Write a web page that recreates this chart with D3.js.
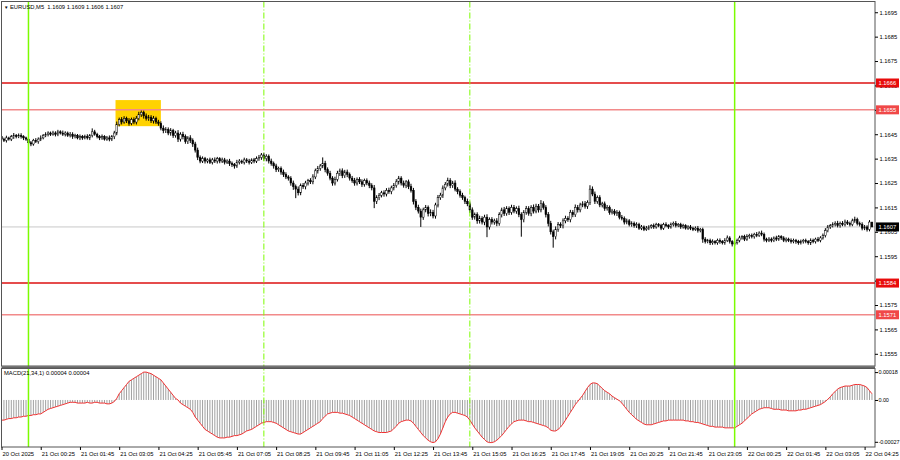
<!DOCTYPE html>
<html>
<head>
<meta charset="utf-8">
<script src="https://cdn.jsdelivr.net/npm/d3@7"></script>
<style>
  body { margin: 0; background: #fff; }
  svg text { font-family: "Liberation Sans", Arial, sans-serif; font-size: 5.8px; fill: #000; }
</style>
</head>
<body>
<div id="chart"></div>
<script>
const { d3 } = window;

// EURUSD M5, one bar every 5 minutes from 20 Oct 23:05
const firstOpen = 1.16440;
const closes = [
  1.16430, 1.16425, 1.16435, 1.16430, 1.16440, 1.16445, 1.16440, 1.16445, 1.16440, 1.16435,
  1.16430, 1.16415, 1.16410, 1.16425, 1.16420, 1.16430, 1.16435, 1.16445, 1.16450, 1.16455,
  1.16450, 1.16455, 1.16450, 1.16460, 1.16455, 1.16450, 1.16455, 1.16445, 1.16450, 1.16440,
  1.16445, 1.16435, 1.16440, 1.16435, 1.16440, 1.16435, 1.16445, 1.16460, 1.16450, 1.16440,
  1.16435, 1.16440, 1.16430, 1.16435, 1.16430, 1.16440, 1.16455, 1.16490, 1.16510, 1.16500,
  1.16515, 1.16505, 1.16495, 1.16510, 1.16500, 1.16515, 1.16530, 1.16540, 1.16525, 1.16515,
  1.16520, 1.16505, 1.16515, 1.16500, 1.16495, 1.16475, 1.16465, 1.16470, 1.16455, 1.16465,
  1.16445, 1.16455, 1.16430, 1.16450, 1.16440, 1.16420, 1.16435, 1.16425, 1.16410, 1.16385,
  1.16355, 1.16340, 1.16350, 1.16340, 1.16345, 1.16335, 1.16345, 1.16340, 1.16350, 1.16340,
  1.16345, 1.16335, 1.16340, 1.16330, 1.16325, 1.16320, 1.16335, 1.16340, 1.16335, 1.16345,
  1.16340, 1.16335, 1.16345, 1.16340, 1.16350, 1.16355, 1.16365, 1.16350, 1.16360, 1.16340,
  1.16330, 1.16320, 1.16305, 1.16310, 1.16295, 1.16285, 1.16275, 1.16270, 1.16250, 1.16235,
  1.16225, 1.16210, 1.16240, 1.16235, 1.16250, 1.16260, 1.16255, 1.16275, 1.16300, 1.16310,
  1.16320, 1.16330, 1.16305, 1.16290, 1.16270, 1.16250, 1.16265, 1.16290, 1.16300, 1.16280,
  1.16295, 1.16285, 1.16270, 1.16260, 1.16250, 1.16265, 1.16255, 1.16245, 1.16260, 1.16250,
  1.16240, 1.16230, 1.16175, 1.16190, 1.16200, 1.16210, 1.16205, 1.16220, 1.16215, 1.16230,
  1.16240, 1.16255, 1.16270, 1.16250, 1.16240, 1.16255, 1.16235, 1.16220, 1.16175, 1.16150,
  1.16135, 1.16110, 1.16140, 1.16150, 1.16125, 1.16130, 1.16115, 1.16160, 1.16190, 1.16200,
  1.16230, 1.16245, 1.16260, 1.16240, 1.16250, 1.16225, 1.16215, 1.16200, 1.16190, 1.16175,
  1.16165, 1.16140, 1.16110, 1.16120, 1.16095, 1.16105, 1.16090, 1.16110, 1.16070, 1.16100,
  1.16090, 1.16095, 1.16085, 1.16120, 1.16140, 1.16125, 1.16145, 1.16130, 1.16150, 1.16135,
  1.16145, 1.16120, 1.16100, 1.16130, 1.16145, 1.16125, 1.16150, 1.16135, 1.16155, 1.16140,
  1.16165, 1.16150, 1.16120, 1.16085, 1.16050, 1.16030, 1.16060, 1.16080, 1.16075, 1.16095,
  1.16105, 1.16100, 1.16130, 1.16120, 1.16150, 1.16140, 1.16160, 1.16165, 1.16155, 1.16170,
  1.16225, 1.16205, 1.16175, 1.16190, 1.16160, 1.16165, 1.16145, 1.16150, 1.16130, 1.16135,
  1.16125, 1.16130, 1.16110, 1.16105, 1.16090, 1.16095, 1.16080, 1.16085, 1.16075, 1.16080,
  1.16065, 1.16070, 1.16060, 1.16065, 1.16070, 1.16075, 1.16070, 1.16080, 1.16075, 1.16065,
  1.16080, 1.16075, 1.16070, 1.16080, 1.16085, 1.16075, 1.16080, 1.16070, 1.16075, 1.16065,
  1.16070, 1.16065, 1.16060, 1.16065, 1.16055, 1.16060, 1.16020, 1.16010, 1.16015, 1.16005,
  1.16010, 1.16005, 1.16015, 1.16010, 1.16005, 1.16015, 1.16025, 1.16010, 1.16000, 1.16005,
  1.16015, 1.16025, 1.16030, 1.16020, 1.16030, 1.16035, 1.16030, 1.16040, 1.16035, 1.16045,
  1.16040, 1.16020, 1.16015, 1.16020, 1.16015, 1.16025, 1.16020, 1.16030, 1.16025, 1.16015,
  1.16020, 1.16015, 1.16010, 1.16015, 1.16010, 1.16005, 1.16010, 1.16015, 1.16010, 1.16005,
  1.16015, 1.16010, 1.16020, 1.16015, 1.16025, 1.16035, 1.16055, 1.16070, 1.16075, 1.16080,
  1.16085, 1.16075, 1.16085, 1.16080, 1.16090, 1.16085, 1.16080, 1.16095, 1.16100, 1.16085,
  1.16080, 1.16065, 1.16070, 1.16060, 1.16090, 1.16070,
];

// wick lengths beyond the body, in points (0.00001)
const upperWickPts = [
  8, 6, 9, 5, 7, 10, 6, 8, 9, 6, 5, 8, 7, 6, 9, 7, 10, 6, 8, 7,
  6, 9, 7, 8, 6, 10, 7, 6, 9, 8, 7, 6, 9, 7, 8, 10, 6, 14, 8, 6,
  7, 9, 6, 8, 10, 7, 9, 12, 8, 10, 9, 7, 11, 8, 9, 10, 12, 9, 8, 10,
  9, 8, 10, 7, 9, 8, 11, 9, 8, 10, 7, 9, 12, 8, 10, 9, 7, 11, 8, 9,
  10, 8, 9, 7, 6, 9, 8, 10, 7, 6, 9, 8, 7, 9, 8, 7, 10, 8, 6, 9,
  7, 9, 6, 8, 9, 10, 8, 9, 8, 7, 10, 8, 9, 7, 8, 10, 9, 7, 8, 10,
  9, 11, 8, 10, 9, 7, 10, 11, 9, 10, 8, 25, 11, 9, 10, 8, 11, 10, 9, 10,
  9, 10, 8, 9, 11, 8, 9, 10, 8, 9, 10, 9, 12, 10, 9, 8, 10, 9, 11, 9,
  10, 11, 9, 8, 10, 7, 9, 12, 10, 9, 11, 10, 9, 10, 8, 12, 10, 9, 11, 10,
  10, 9, 12, 10, 9, 11, 8, 9, 10, 8, 11, 9, 10, 9, 10, 11, 9, 10, 12, 9,
  10, 9, 11, 10, 9, 12, 10, 9, 11, 10, 9, 12, 10, 9, 11, 10, 9, 12, 10, 9,
  15, 10, 9, 11, 10, 9, 12, 10, 9, 10, 11, 9, 10, 9, 12, 10, 9, 10, 11, 9,
  16, 11, 10, 9, 10, 8, 9, 10, 8, 9, 8, 9, 7, 9, 8, 9, 7, 8, 7, 9,
  7, 8, 6, 9, 7, 6, 9, 7, 6, 8, 7, 9, 6, 8, 7, 9, 6, 7, 8, 6,
  7, 8, 6, 7, 9, 6, 7, 8, 6, 7, 9, 6, 7, 8, 6, 9, 10, 7, 6, 8,
  7, 9, 6, 8, 10, 7, 8, 6, 9, 7, 10, 7, 6, 8, 7, 6, 9, 7, 6, 7,
  7, 6, 8, 7, 6, 7, 8, 6, 7, 6, 8, 7, 6, 9, 7, 8, 10, 8, 7, 9,
  8, 10, 7, 9, 10, 8, 7, 9, 12, 8, 7, 9, 8, 7, 8, 0,
];
const lowerWickPts = [
  25, 7, 9, 6, 8, 9, 7, 6, 8, 9, 7, 10, 9, 7, 6, 9, 8, 6, 7, 9,
  7, 6, 9, 8, 6, 7, 9, 6, 8, 9, 7, 6, 9, 8, 6, 7, 9, 8, 6, 7,
  9, 8, 6, 7, 9, 8, 10, 9, 8, 10, 7, 9, 10, 8, 9, 10, 8, 9, 11, 9,
  10, 9, 11, 8, 10, 9, 11, 10, 9, 11, 10, 9, 12, 10, 11, 9, 10, 11, 12, 10,
  11, 9, 8, 10, 9, 7, 9, 8, 10, 9, 8, 9, 7, 10, 9, 11, 8, 9, 7, 9,
  8, 9, 7, 9, 8, 9, 10, 9, 11, 10, 9, 11, 10, 9, 11, 10, 9, 10, 11, 13,
  37, 11, 10, 9, 11, 10, 9, 10, 9, 11, 10, 9, 11, 10, 9, 11, 10, 9, 11, 10,
  9, 11, 10, 9, 11, 10, 9, 11, 10, 9, 11, 10, 28, 11, 10, 9, 11, 10, 9, 11,
  10, 9, 11, 10, 9, 11, 10, 9, 13, 11, 10, 40, 11, 10, 12, 11, 10, 11, 10, 9,
  11, 10, 9, 11, 10, 9, 11, 10, 9, 11, 10, 12, 11, 10, 12, 11, 10, 13, 42, 11,
  10, 11, 12, 10, 11, 10, 9, 11, 10, 9, 11, 10, 70, 11, 10, 9, 11, 10, 9, 11,
  10, 9, 11, 13, 11, 45, 11, 10, 9, 11, 10, 9, 11, 10, 9, 11, 10, 9, 10, 11,
  10, 9, 11, 10, 9, 10, 9, 8, 10, 9, 8, 10, 9, 8, 10, 9, 8, 9, 8, 9,
  7, 8, 7, 6, 8, 7, 8, 7, 6, 8, 7, 6, 8, 7, 8, 7, 6, 8, 7, 6,
  7, 8, 7, 6, 8, 7, 15, 8, 7, 9, 8, 7, 8, 9, 7, 8, 7, 8, 10, 8,
  7, 8, 7, 8, 7, 8, 7, 8, 7, 6, 8, 10, 8, 7, 8, 7, 8, 7, 8, 7,
  8, 7, 8, 7, 9, 8, 7, 8, 7, 8, 9, 7, 8, 7, 8, 7, 8, 7, 8, 7,
  8, 7, 8, 7, 8, 7, 8, 7, 8, 9, 8, 9, 8, 9, 8, 1,
];

// MACD(21,34,1) per bar, in units of 0.00001
const macdE5 = [
  -13, -13, -12.5, -12, -12, -11.5, -11.5, -11, -11, -10.5,
  -10.5, -10, -10, -9.5, -9.5, -9, -9, -8, -7, -6,
  -5.5, -5, -4.5, -4, -3.5, -3, -2.5, -2, -1.5, -1.5,
  -1.5, -2, -2, -2, -2, -1.5, -2, -2, -1.5, -1.5,
  -2, -2, -2, -2.5, -2.5, -2, -1, 1, 4, 6,
  8, 10, 12, 13, 14, 15, 16, 17, 18, 18,
  17.5, 17, 16, 15, 14, 13, 11, 9, 7, 5,
  3, 1, 0, -2, -3, -4, -5, -6, -8, -11,
  -13, -15, -17, -19, -20, -21, -22, -23, -24, -24.5,
  -24.5, -24.5, -24, -24, -23.5, -23, -23, -22.5, -22, -21,
  -20, -19.5, -19, -18, -17, -16, -15, -14.5, -14, -14,
  -14, -14.5, -15, -16, -17, -18, -19, -20, -20.5, -21,
  -21.5, -22, -22, -21, -20, -19, -18, -17, -16, -15,
  -14, -12, -10.5, -9, -8.5, -8, -8, -8, -8.5, -8.5,
  -9, -9.5, -10, -11, -12, -13, -14, -15, -16, -17,
  -18, -19, -20, -20.5, -21, -21, -21, -21, -20.5, -20,
  -18.5, -17, -15, -14, -13.5, -13, -13, -13.5, -15, -17,
  -19, -21, -23, -24.5, -26, -27, -27.5, -27, -25, -22,
  -18, -14, -11, -9, -8, -8, -8.5, -9, -9.5, -10,
  -11, -13, -15.5, -18, -20, -22, -24, -25.5, -27, -27.5,
  -27.5, -27, -26, -24.5, -23, -21, -19, -17, -15.5, -14,
  -13.5, -13, -13, -13, -13.5, -14, -14, -14.5, -15, -15.5,
  -16, -16.5, -17, -18, -19.5, -20, -20, -19, -17.5, -15.5,
  -13, -10.5, -8, -5.5, -3, -1, 1, 3, 5.5, 8,
  10, 11, 11, 10.5, 9, 7.5, 6, 5, 4, 2.5,
  1.5, 0.5, -0.5, -2, -4, -6, -8, -9.5, -11, -12.5,
  -13.5, -14.5, -15.5, -16, -16, -16, -15.5, -15, -14.5, -14,
  -13.5, -13.5, -13, -13, -13, -13, -13, -13, -13, -13.5,
  -13.5, -14, -14, -14.5, -14.5, -15, -15.5, -16, -16.5, -17,
  -17, -17.5, -17.5, -17.5, -17.5, -18, -18, -18, -18, -18,
  -17, -16, -15, -13.5, -12, -10.5, -9, -8, -7, -6,
  -5.5, -5, -5, -5, -5.5, -6, -6, -6, -6.5, -6.5,
  -6.5, -7, -7, -7, -7, -6.5, -6.5, -6, -6, -5.5,
  -5, -4.5, -4, -3.5, -3, -2, -1, 0.5, 2, 4,
  5.5, 7, 8, 8.5, 9, 9, 9, 9.5, 10, 10,
  10, 9.5, 9, 8, 6, 4,
];

const priceTicks = [1.1695, 1.1685, 1.1675, 1.1665, 1.1655, 1.1645, 1.1635, 1.1625,
  1.1615, 1.1605, 1.1595, 1.1585, 1.1575, 1.1565, 1.1555];
const strongLevels = [1.1666, 1.1584];
const weakLevels = [1.1655, 1.1571];
const macdTicks = [0.00018, 0, -0.00027];
const macdTickLabels = ['0.00018', '0.00', '-0.00027'];
const timeLabels = ['20 Oct 2025', '21 Oct 00:25', '21 Oct 01:45', '21 Oct 03:05', '21 Oct 04:25',
  '21 Oct 05:45', '21 Oct 07:05', '21 Oct 08:25', '21 Oct 09:45', '21 Oct 11:05', '21 Oct 12:25',
  '21 Oct 13:45', '21 Oct 15:05', '21 Oct 16:25', '21 Oct 17:45', '21 Oct 19:05', '21 Oct 20:25',
  '21 Oct 21:45', '21 Oct 23:05', '22 Oct 00:25', '22 Oct 01:45', '22 Oct 03:05', '22 Oct 04:25'];
const barsPerLabel = 16;
const dayBars = [11, 299]; // 00:00 lines
const sessionBars = [107, 191]; // 08:00 and 15:00 lines
const zoneBars = [46.5, 65];
const zonePrices = [1.16483, 1.16590];
const titleText = 'EURUSD,M5  1.1609 1.1609 1.1606 1.1607';
const macdText = 'MACD(21,34,1) 0.00004 0.00004';

function chartInit() {
  const W = 900;
  const H = 460;
  const left = 1.5;
  const right = 875;
  const mainTop = 1.5;
  const mainBottom = 366;
  const subTop = 368.5;
  const subBottom = 447;
  const step = 2.452;

  const svg = d3.select('#chart').append('svg')
    .attr('width', W)
    .attr('height', H);

  const x = d3.scaleLinear()
    .domain([0, closes.length])
    .range([left, left + step * closes.length]);
  const y = d3.scaleLinear()
    .domain([1.1550, 1.16992])
    .range([mainBottom, 2]);
  const yM = d3.scaleLinear()
    .domain([-0.00031, 0.0002])
    .range([448, 369]);

  const defs = svg.append('defs');
  defs.append('clipPath').attr('id', 'clipMain')
    .append('rect').attr('x', left).attr('y', mainTop)
    .attr('width', right - left).attr('height', mainBottom - mainTop);
  defs.append('clipPath').attr('id', 'clipSub')
    .append('rect').attr('x', left).attr('y', subTop)
    .attr('width', right - left).attr('height', subBottom - subTop);

  const main = svg.append('g').attr('clip-path', 'url(#clipMain)');
  const sub = svg.append('g').attr('clip-path', 'url(#clipSub)');

  // yellow zone behind the bars
  main.append('rect')
    .attr('x', x(zoneBars[0]))
    .attr('y', y(zonePrices[1]))
    .attr('width', x(zoneBars[1]) - x(zoneBars[0]))
    .attr('height', y(zonePrices[0]) - y(zonePrices[1]))
    .attr('fill', '#ffd200');

  // last price line
  const last = closes[closes.length - 1];
  main.append('line')
    .attr('x1', left).attr('x2', right)
    .attr('y1', y(last)).attr('y2', y(last))
    .attr('stroke', '#c8c8c8')
    .attr('stroke-width', 1);

  // bars
  const bars = closes.map((c, i) => {
    const o = i === 0 ? firstOpen : closes[i - 1];
    return {
      i,
      o,
      c,
      h: Math.max(o, c) + upperWickPts[i] * 1e-5,
      l: Math.min(o, c) - lowerWickPts[i] * 1e-5,
    };
  });

  const candle = main.append('g').selectAll('g')
    .data(bars)
    .join('g');

  candle.append('line')
    .attr('x1', (d) => x(d.i))
    .attr('x2', (d) => x(d.i))
    .attr('y1', (d) => y(d.h))
    .attr('y2', (d) => y(d.l))
    .attr('stroke', '#000')
    .attr('stroke-width', 1);

  candle.append('rect')
    .attr('x', (d) => x(d.i) - 0.85)
    .attr('width', 1.7)
    .attr('y', (d) => y(Math.max(d.o, d.c)))
    .attr('height', (d) => Math.max(0.6, Math.abs(y(d.o) - y(d.c))))
    .attr('fill', (d) => (d.c >= d.o ? '#fff' : '#000'))
    .attr('stroke', '#000')
    .attr('stroke-width', 0.5);

  // horizontal levels
  main.selectAll('.weak')
    .data(weakLevels)
    .join('line')
    .attr('x1', left).attr('x2', right)
    .attr('y1', (d) => y(d)).attr('y2', (d) => y(d))
    .attr('stroke', '#f28a8a')
    .attr('stroke-width', 1.5);
  main.selectAll('.strong')
    .data(strongLevels)
    .join('line')
    .attr('x1', left).attr('x2', right)
    .attr('y1', (d) => y(d)).attr('y2', (d) => y(d))
    .attr('stroke', '#dd1010')
    .attr('stroke-width', 1.6);

  // MACD histogram and signal
  sub.append('g').selectAll('line')
    .data(macdE5)
    .join('line')
    .attr('x1', (d, i) => x(i))
    .attr('x2', (d, i) => x(i))
    .attr('y1', yM(0))
    .attr('y2', (d) => yM(d * 1e-5))
    .attr('stroke', '#a0a0a0')
    .attr('stroke-width', 1);

  sub.append('path')
    .datum(macdE5)
    .attr('d', d3.line().x((d, i) => x(i)).y((d) => yM(d * 1e-5)))
    .attr('fill', 'none')
    .attr('stroke', '#f03232')
    .attr('stroke-width', 1);

  // vertical green lines across both panes
  svg.append('g').selectAll('line')
    .data(dayBars)
    .join('line')
    .attr('x1', (d) => x(d)).attr('x2', (d) => x(d))
    .attr('y1', mainTop).attr('y2', subBottom)
    .attr('stroke', '#7cfc00')
    .attr('stroke-width', 1.5);
  svg.append('g').selectAll('line')
    .data(sessionBars)
    .join('line')
    .attr('x1', (d) => x(d)).attr('x2', (d) => x(d))
    .attr('y1', mainTop).attr('y2', subBottom)
    .attr('stroke', '#7cfc00')
    .attr('stroke-width', 1)
    .attr('stroke-dasharray', '6,2,1,2');

  // frames
  svg.append('rect')
    .attr('x', left).attr('y', mainTop)
    .attr('width', right - left).attr('height', mainBottom - mainTop)
    .attr('fill', 'none').attr('stroke', '#555').attr('stroke-width', 1);
  svg.append('rect')
    .attr('x', left).attr('y', subTop)
    .attr('width', right - left).attr('height', subBottom - subTop)
    .attr('fill', 'none').attr('stroke', '#555').attr('stroke-width', 1);
  svg.append('line')
    .attr('x1', left).attr('x2', right)
    .attr('y1', 367.2).attr('y2', 367.2)
    .attr('stroke', '#666').attr('stroke-width', 2);

  // price axis
  const yAxis = d3.axisRight(y)
    .tickValues(priceTicks)
    .tickSize(3)
    .tickPadding(1.5)
    .tickFormat(d3.format('.4f'));
  const gy = svg.append('g')
    .attr('transform', `translate(${right}, 0)`)
    .call(yAxis);
  gy.select('.domain').remove();
  gy.selectAll('text').attr('font-size', null).attr('font-family', null);

  const macdAxis = d3.axisRight(yM)
    .tickValues(macdTicks)
    .tickSize(3)
    .tickPadding(0.5)
    .tickFormat((d, k) => macdTickLabels[k]);
  const gm = svg.append('g')
    .attr('transform', `translate(${right}, 0)`)
    .call(macdAxis);
  gm.select('.domain').remove();
  gm.selectAll('text')
    .attr('font-size', null).attr('font-family', null)
    .style('font-size', '5.5px')
    .style('letter-spacing', '-0.1px');

  // time axis
  const timeIdx = timeLabels.map((t, k) => k * barsPerLabel);
  const xAxis = d3.axisBottom(x)
    .tickValues(timeIdx)
    .tickSize(3)
    .tickPadding(2)
    .tickFormat((d, k) => timeLabels[k]);
  const gx = svg.append('g')
    .attr('transform', `translate(0, ${subBottom})`)
    .call(xAxis);
  gx.select('.domain').remove();
  gx.selectAll('text')
    .attr('font-size', null).attr('font-family', null)
    .attr('text-anchor', 'start')
    .attr('dx', 0.5);

  // level boxes on the price axis
  const boxes = [
    ...weakLevels.map((p) => ({ p, fill: '#f04848' })),
    ...strongLevels.map((p) => ({ p, fill: '#e80c0c' })),
    { p: last, fill: '#000' },
  ];
  const box = svg.append('g').selectAll('g')
    .data(boxes)
    .join('g')
    .attr('transform', (d) => `translate(${right + 1}, ${y(d.p)})`);
  box.append('rect')
    .attr('x', 0).attr('y', -4.5)
    .attr('width', 23).attr('height', 9)
    .attr('fill', (d) => d.fill);
  box.append('text')
    .attr('x', 2.5).attr('dy', '0.34em')
    .style('fill', '#fff')
    .text((d) => d3.format('.4f')(d.p));

  // titles
  svg.append('text')
    .attr('x', 4).attr('y', 8.5)
    .style('font-size', '4.5px')
    .text('\u25BC');
  svg.append('text')
    .attr('x', 10).attr('y', 8.5)
    .style('white-space', 'pre')
    .text(titleText);
  svg.append('text')
    .attr('x', 4).attr('y', 375)
    .text(macdText);
}

chartInit();
</script>
</body>
</html>
